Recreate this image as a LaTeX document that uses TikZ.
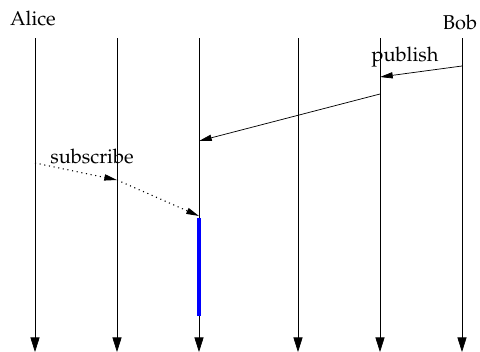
\documentclass[tikz,border=0pt]{standalone}
\usepackage[T1]{fontenc}
\usepackage{mathpazo}
\usetikzlibrary{arrows.meta}

\begin{document}
\begin{tikzpicture}[x=0.55pt,y=-0.55pt,
  every node/.style={font=\fontsize{11}{13}\selectfont},
  life/.style={-{Triangle[length=8pt,width=5pt]}},
  msg/.style={-{Triangle[length=7pt,width=3.4pt]}},
  sub/.style={msg,dotted,semithick}]
  \useasboundingbox (0,0) rectangle (480,352);
  % lifelines
  \foreach \n/\x in {a/35,b/117,c/199,d/298,e/380,f/462}{
    \coordinate (t\n) at (\x,38);
    \coordinate (b\n) at (\x,352);
    \draw[life] (t\n) -- (b\n);
  }
  % participants
  \node (alice) at (33,18) {Alice};
  \node (bob) at (460,22) {Bob};
  % publish
  \coordinate (p1) at (462,66);
  \coordinate (p2) at (380,77);
  \coordinate (p3) at (380,94);
  \coordinate (p4) at (199,141);
  \draw[msg] (p1) -- (p2);
  \draw[msg] (p3) -- (p4);
  \node (publish) at (405,57) {publish};
  % subscribe
  \coordinate (s1) at (35,163);
  \coordinate (s2) at (117,180);
  \coordinate (s3) at (199,216);
  \draw[sub] (s1) -- (s2);
  \draw[sub] (s2) -- (s3);
  \node (subscribe) at (92,156) {subscribe};
  % active span
  \coordinate (u1) at (199,218);
  \coordinate (u2) at (199,316);
  \draw[blue,line width=2pt] (u1) -- (u2);
\end{tikzpicture}
\end{document}
